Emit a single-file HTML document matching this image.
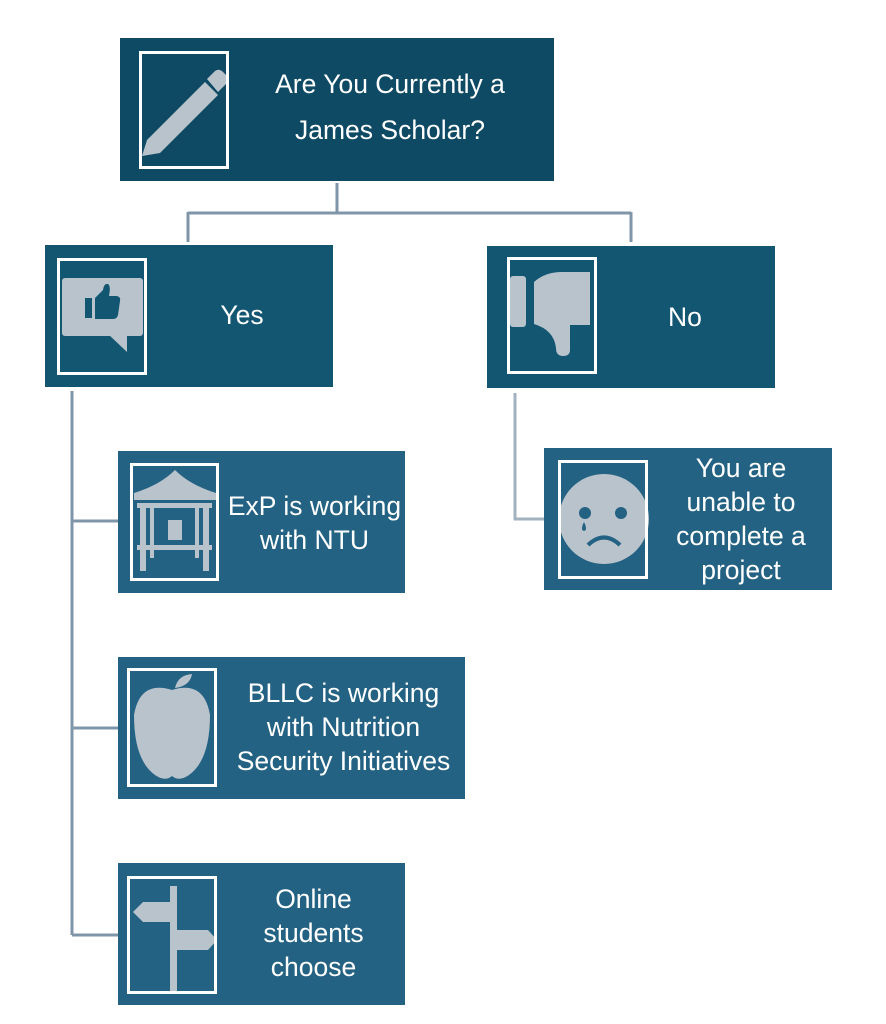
<!DOCTYPE html>
<html><head><meta charset="utf-8"><style>
body{margin:0;background:#fff;width:886px;height:1024px;position:relative;overflow:hidden;font-family:"Liberation Sans",sans-serif}
.b{position:absolute;color:#fff;font-size:26.5px;line-height:34px;text-align:center;display:flex;align-items:center;justify-content:center;white-space:nowrap}
.f{position:absolute;border:3px solid #fff;box-sizing:border-box;overflow:hidden}
svg{position:absolute;left:0;top:0}
</style></head><body>
<svg width="886" height="1024">
<g stroke="#7f95a8" stroke-width="3" fill="none">
<path d="M337 183V213M188 213H631M188 212V242M631 212V242"/>
<path d="M72 391V935M72 521H118M72 728H118M72 935H118"/>
<path d="M515 393V519H544" stroke="#a3b2bf"/>
</g>
<rect x="120" y="38" width="434" height="143" fill="#0f4a65"/>
<rect x="45" y="245" width="288" height="142" fill="#135672"/>
<rect x="487" y="246" width="288" height="142" fill="#135672"/>
<rect x="118" y="451" width="287" height="142" fill="#246283"/>
<rect x="118" y="657" width="347" height="142" fill="#246283"/>
<rect x="118" y="863" width="287" height="142" fill="#246283"/>
<rect x="544" y="448" width="288" height="142" fill="#246283"/>
<g fill="#b9c3cc">
<!-- pencil -->
<path d="M142 156L147 140L205 82L218 95L160 153Z"/>
<path d="M207 79L215 71Q219 68 223 72L227 76Q230 80 226 84L218 92Z"/>
<!-- speech bubble -->
<rect x="62" y="278" width="81" height="58" rx="3"/>
<path d="M108 334L127 352V334Z"/>
<!-- thumbs down -->
<rect x="510" y="276" width="16" height="51" rx="3"/>
<path d="M534 282Q545 272 562 272H590V325H570V350Q570 356 563 356Q556 356 556 348Q554 330 534 324Z"/>
<!-- pavilion -->
<path d="M134 493Q160 485 175 470Q190 485 216 493V500H134Z"/>
<rect x="137" y="503" width="75" height="5"/><rect x="140" y="503" width="6" height="68"/><rect x="203" y="503" width="6" height="68"/>
<rect x="150" y="508" width="4" height="50"/><rect x="195" y="508" width="4" height="50"/>
<rect x="137" y="545" width="75" height="5"/><rect x="168" y="520" width="14" height="20"/>
<!-- apple -->
<path d="M172 690Q140 680 134 715Q134 760 155 775Q165 782 172 776Q179 782 189 775Q210 760 210 715Q204 680 172 690Z"/>
<path d="M175 688Q178 675 192 674Q190 686 175 688Z"/>
<!-- signpost -->
<rect x="170" y="886" width="7" height="105"/>
<path d="M133 912L143 902H172V922H143Z"/><path d="M175 930H208L217 940L208 950H175Z"/>
<!-- sad face -->
<circle cx="604" cy="519" r="45"/>
</g>
<!-- thumbs up -->
<g fill="#135672">
<rect x="85" y="298" width="7" height="20"/>
<path d="M95 298L103 290Q104 283 108 284Q111 286 109 296H117Q121 297 120 301L118 315Q117 319 113 319H95Z"/>
</g>
<g fill="#246283"><circle cx="585" cy="513" r="6"/><circle cx="621" cy="513" r="6"/><path d="M584 522Q580 530 584 531Q588 530 584 522Z"/></g>
<path d="M588 545Q604 530 620 545" stroke="#246283" stroke-width="4" fill="none"/>
</svg>
<div class="f" style="left:139px;top:51px;width:90px;height:118px"></div>
<div class="f" style="left:57px;top:258px;width:90px;height:117px"></div>
<div class="f" style="left:507px;top:257px;width:90px;height:117px"></div>
<div class="f" style="left:130px;top:463px;width:89px;height:118px"></div>
<div class="f" style="left:127px;top:668px;width:90px;height:119px"></div>
<div class="f" style="left:127px;top:876px;width:90px;height:118px"></div>
<div class="f" style="left:558px;top:460px;width:90px;height:119px"></div>
<div class="b" style="left:240px;top:62px;width:300px;height:90px;line-height:46px">Are You Currently a<br>James Scholar?</div>
<div class="b" style="left:162px;top:295px;width:160px;height:40px">Yes</div>
<div class="b" style="left:605px;top:297px;width:160px;height:40px">No</div>
<div class="b" style="left:222px;top:485px;width:185px;height:76px">ExP is working<br>with NTU</div>
<div class="b" style="left:222px;top:674px;width:243px;height:106px">BLLC is working<br>with Nutrition<br>Security Initiatives</div>
<div class="b" style="left:222px;top:880px;width:183px;height:106px">Online<br>students<br>choose</div>
<div class="b" style="left:650px;top:450px;width:182px;height:138px">You are<br>unable to<br>complete a<br>project</div>
</body></html>
